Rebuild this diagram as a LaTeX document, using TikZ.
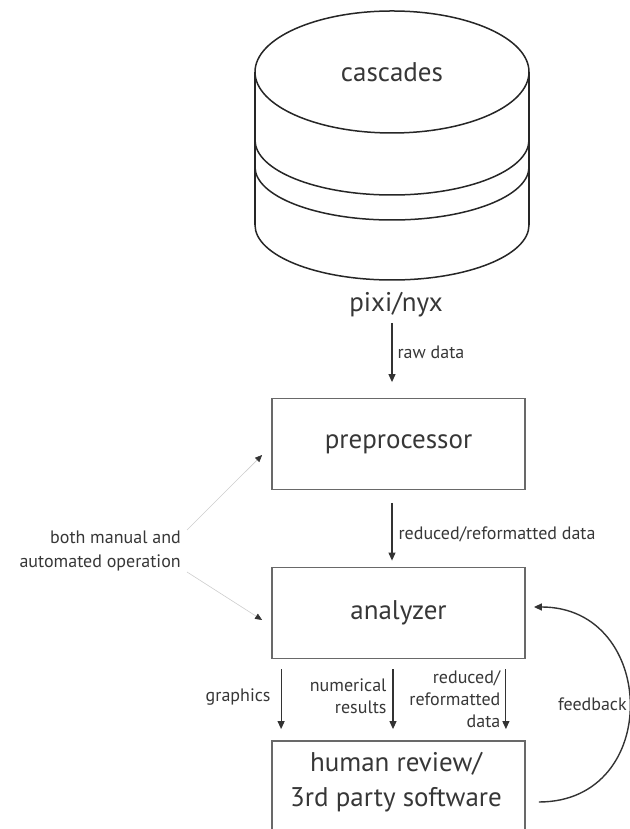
\documentclass[tikz,border=0pt]{standalone}
\usepackage{fontspec}
\setmainfont{PT Sans}
\usepackage{tikz}
\usetikzlibrary{arrows.meta, positioning, calc}
\definecolor{cText}{RGB}{55,55,55}
\definecolor{cBox}{RGB}{105,105,105}
\definecolor{cGuide}{RGB}{205,205,205}
\tikzset{
	bigtxt/.style  ={font=\fontsize{27}{35}\selectfont, text=cText},
	smalltxt/.style={font=\fontsize{18}{22}\selectfont, text=cText, inner sep=0pt},
	stage/.style   ={rectangle, draw=cBox, line width=1.8pt, minimum width=253pt, minimum height=91pt, inner sep=0pt, bigtxt},
	sig/.style     ={-{Triangle[length=8pt, width=7pt]}, line width=1.1pt, black!80},
	guide/.style   ={-{Triangle[length=7pt, width=6pt, color=black!80]}, line width=0.6pt, cGuide},
	% database drawing
	drum/.style    ={line width=1.5pt, black!85},
}
\begin{document}
\begin{tikzpicture}[x=1pt, y=1pt]
	\useasboundingbox (0,0) rectangle (629,829);
	% database
	\coordinate (db) at (392,757);
	\draw[drum] (255,757) -- (255,604) (529,757) -- (529,604);
	\draw[drum, fill=white] (db) ellipse [x radius=137, y radius=61];
	\draw[drum] (255,689) arc[start angle=180, end angle=360, x radius=137, y radius=55];
	\draw[drum] (255,662) arc[start angle=180, end angle=360, x radius=137, y radius=53];
	\draw[drum] (255,604) arc[start angle=180, end angle=360, x radius=137, y radius=55];
	\node[bigtxt] (cascades) at (db) {cascades};
	\node[bigtxt] (pixi) at (396,524) {pixi/nyx};
	% stages
	\node[stage] (prep) at (398.5,385) {preprocessor};
	\node[stage] (anl) at (398.5,216) {analyzer};
	\node[stage, minimum height=96pt] (review) at (398.5,40) {};
	\node[bigtxt, align=center] (reviewtxt) at (396,46.5) {human review/\\3rd party software};
	\node[smalltxt, align=right, font=\fontsize{18}{24}\selectfont, anchor=east] (mode) at (181,278) {both manual and\\automated operation};
	% data flow
	\draw[sig] ([yshift=-2pt]pixi.south -| db) -- ([yshift=15.5pt]prep.north -| db)
		node[midway, right=5pt, smalltxt] {raw data};
	\draw[sig] ([xshift=-6.5pt, yshift=-12.5pt]prep.south) -- ([xshift=-6.5pt, yshift=6pt]anl.north)
		node[pos=.55, right=6pt, smalltxt] {reduced/reformatted data};
	\draw[sig] ([xshift=10pt, yshift=-10pt]anl.south west) -- ([xshift=10pt, yshift=11pt]review.north west)
		node[pos=.47, left=10pt, smalltxt] {graphics};
	\draw[sig] ([xshift=-5.5pt, yshift=-10pt]anl.south) -- ([xshift=-5.5pt, yshift=11pt]review.north)
		node[pos=.45, left=6pt, smalltxt, align=right] {numerical\\results};
	\draw[sig] ([xshift=-20pt, yshift=-10pt]anl.south east) -- ([xshift=-20pt, yshift=11pt]review.north east)
		node[pos=.5, left=5pt, smalltxt, align=right] {reduced/\\reformatted\\data};
	% manual / automated
	\draw[guide] ($(mode.east)+(6,21)$) -- ($(prep.west)+(-9,-11)$);
	\draw[guide] ($(mode.east)+(6,-21)$) -- ($(anl.west)+(-9,-7)$);
	% feedback loop
	\draw[sig, line width=1.4pt] ($(review.east)+(13,-13)$) .. controls +(124,0) and +(124,0) .. ($(anl.east)+(8,6)$)
		node[pos=.5, left=2pt, smalltxt] {feedback};
\end{tikzpicture}
\end{document}
